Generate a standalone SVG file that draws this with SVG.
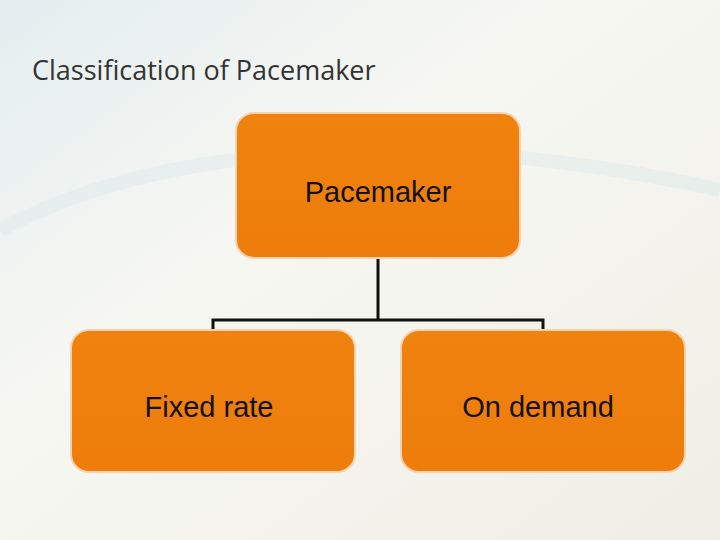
<svg xmlns="http://www.w3.org/2000/svg" width="720" height="540" viewBox="0 0 720 540">
<defs>
<linearGradient id="bg" x1="0" y1="0" x2="1" y2="1">
<stop offset="0" stop-color="#e4eef0"/><stop offset="0.4" stop-color="#f7f7f2"/><stop offset="1" stop-color="#efeee6"/>
</linearGradient>
<linearGradient id="box" x1="0" y1="0" x2="0" y2="1">
<stop offset="0" stop-color="#f0820e"/><stop offset="1" stop-color="#ee7d0c"/>
</linearGradient>
<style>
.n{fill:url(#box);stroke:#f6d3b0;stroke-width:2}
.t{font-family:"Liberation Sans",Arial,sans-serif;font-size:29px;fill:#111;text-anchor:middle}
.c{stroke:#111;stroke-width:3;fill:none}
</style>
</defs>
<rect width="720" height="540" fill="url(#bg)"/>
<path d="M0 230 C150 150 400 120 720 190" stroke="#dde9ec" stroke-width="14" fill="none" opacity="0.5"/>
<text x="32" y="80" font-family="'Open Sans','Liberation Sans',sans-serif" font-size="27" fill="#333">Classification of Pacemaker</text>
<g id="connectors">
<path class="c" d="M378 258V320M213 330V320H543V330"/>
</g>
<g id="pacemaker"><rect class="n" x="236" y="113" width="284" height="145" rx="18"/><text class="t" x="378" y="202">Pacemaker</text></g>
<g id="fixed"><rect class="n" x="71" y="330" width="284" height="142" rx="18"/><text class="t" x="209" y="417">Fixed rate</text></g>
<g id="ondemand"><rect class="n" x="401" y="330" width="284" height="142" rx="18"/><text class="t" x="538" y="417">On demand</text></g>
</svg>
